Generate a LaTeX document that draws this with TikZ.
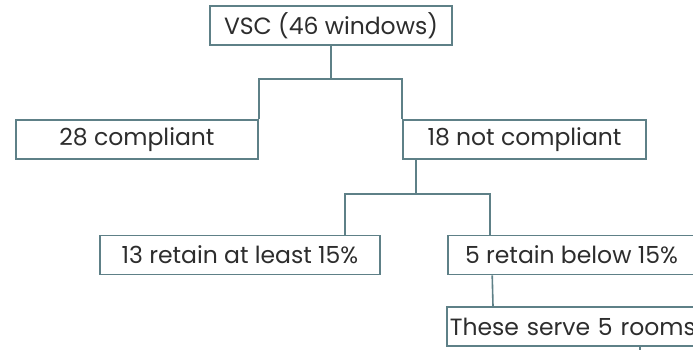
\documentclass[tikz,border=0pt]{standalone}
\usepackage{fontspec}
\setmainfont{Poppins}
\definecolor{box edge}{RGB}{94,128,135}
\definecolor{box text}{RGB}{45,45,45}
\tikzstyle{box}=[draw=box edge, line width=1.6pt, fill=white, text=box text, minimum height=39pt, inner sep=0pt, font=\fontsize{23.5}{26}\selectfont]
\tikzstyle{link}=[draw=box edge, line width=1.6pt]

\begin{document}
\begin{tikzpicture}[x=1pt, y=-1pt]

    % page frame
    \useasboundingbox (0,0) rectangle (693,350);
    \clip (0,0) rectangle (693,350);

    % The boxes of the tree
    \foreach \pos/\name/\boxwd/\label in {{(331,25.5)/vsc/242/VSC (46 windows)}, {(137,139.5)/comp/242/28 compliant}, {(524.5,139.5)/notc/243/18 not compliant}, {(240,255)/least/280/13 retain at least 15\%}, {(571.5,255)/below/247/5 retain below 15\%}} {
      \node[box, minimum width=\boxwd pt] (\name) at \pos {\label};
    }

    % the last box runs off the page
    \node[box, anchor=west, inner xsep=3pt, text width=270pt, align=left] (serve) at (446,326.5) {These serve 5 rooms};
    \coordinate (stub) at (640,360);

    % The connections between them
    \path[link] (vsc.south) -- ++(0,33) -| (comp.north east);
    \path[link] (vsc.south) -- ++(0,33) -| (notc.north west);
    \path[link] ([xshift=14pt]notc.south west) -- ++(0,34) -| ([xshift=105pt]least.north);
    \path[link] ([xshift=14pt]notc.south west) -- ++(0,34) -| ([xshift=43pt]below.north west);
    \path[link] ([xshift=45pt]below.south west) -- ([xshift=47pt]serve.north west);
    \path[link] (serve.south -| stub) -- (stub);

\end{tikzpicture}
\end{document}
